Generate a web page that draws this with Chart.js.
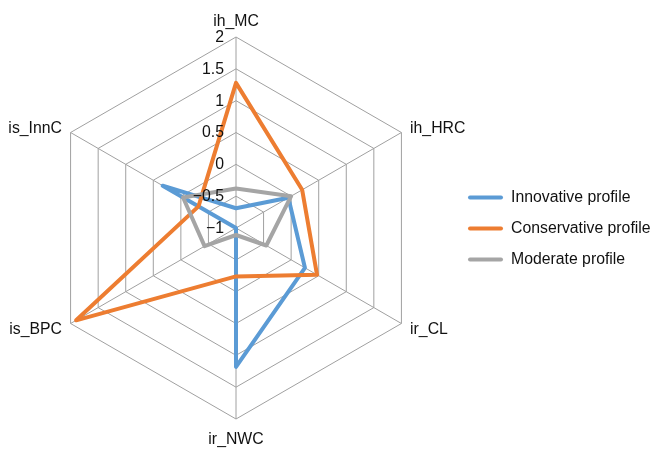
<!DOCTYPE html>
<html>
<head>
<meta charset="utf-8">
<script src="https://cdn.jsdelivr.net/npm/chart.js@4.4.1/dist/chart.umd.min.js"></script>
<style>
  html, body { margin: 0; padding: 0; background: #ffffff; }
  canvas { display: block; }
</style>
</head>
<body>
<canvas id="chart" width="652" height="450"></canvas>
<script>
// Axis categories, clockwise from the top
const axisLabels = ['ih_MC', 'ih_HRC', 'ir_CL', 'ir_NWC', 'is_BPC', 'is_InnC'];

// Profile values per axis
const innovative   = [-0.69, -0.05, 0.25, 1.18, -1.00, 0.33];
const conservative = [ 1.28,  0.20, 0.47, -0.24, 1.90, -0.32];
const moderate     = [-0.38,  0.00, -0.45, -0.89, -0.43, -0.04];

const seriesNames  = ['Innovative profile', 'Conservative profile', 'Moderate profile'];
const seriesColors = ['#5B9BD5', '#ED7D31', '#A5A5A5'];

// Radial scale range and tick spacing
const scaleMin = -1;
const scaleMax = 2;
const scaleStep = 0.5;

const FONT_FAMILY = '"Liberation Sans", Arial, Helvetica, sans-serif';
const FONT = '15.8px ' + FONT_FAMILY;
const TEXT_COLOR = '#111111';

function formatTick(v) {
  const s = String(Math.round(v * 10) / 10);
  return s.replace('-', '\u2212');
}

// Tick values along the vertical axis and category names around the rim
const radarText = {
  id: 'radarText',
  afterDatasetsDraw(chart) {
    const scale = chart.scales.r;
    const ctx = chart.ctx;
    ctx.save();
    ctx.font = FONT;
    ctx.fillStyle = TEXT_COLOR;

    // tick labels, right-aligned just left of the top axis
    ctx.textAlign = 'right';
    ctx.textBaseline = 'middle';
    scale.ticks.forEach(t => {
      const d = scale.getDistanceFromCenterForValue(t.value);
      ctx.fillText(formatTick(t.value), scale.xCenter - 12, scale.yCenter - d + 0.5);
    });

    // category labels
    chart.data.labels.forEach((lbl, i) => {
      const p = scale.getPointPosition(i, scale.drawingArea + 10);
      const dx = p.x - scale.xCenter;
      if (Math.abs(dx) < 1) {
        ctx.textAlign = 'center';
        if (p.y < scale.yCenter) {
          ctx.textBaseline = 'alphabetic';
          ctx.fillText(lbl, p.x, p.y - 1);
        } else {
          ctx.textBaseline = 'top';
          ctx.fillText(lbl, p.x, p.y + 3);
        }
      } else {
        ctx.textAlign = dx > 0 ? 'left' : 'right';
        ctx.textBaseline = 'middle';
        ctx.fillText(lbl, p.x, p.y + 1);
      }
    });
    ctx.restore();
  }
};

// Legend on the right: a short thick line per series, then its name
const sideLegend = {
  id: 'sideLegend',
  afterDraw(chart) {
    const ctx = chart.ctx;
    ctx.save();
    ctx.font = FONT;
    ctx.textAlign = 'left';
    ctx.textBaseline = 'middle';
    chart.data.datasets.forEach((ds, i) => {
      const y = 197.5 + i * 31;
      ctx.strokeStyle = ds.borderColor;
      ctx.lineWidth = 4;
      ctx.lineCap = 'round';
      ctx.beginPath();
      ctx.moveTo(470, y);
      ctx.lineTo(501, y);
      ctx.stroke();
      ctx.fillStyle = TEXT_COLOR;
      ctx.fillText(ds.label, 511, y + 0.5);
    });
    ctx.restore();
  }
};

const seriesValues = [innovative, conservative, moderate];
const datasets = seriesValues.map((vals, i) => ({
  label: seriesNames[i],
  data: vals,
  borderColor: seriesColors[i],
  backgroundColor: seriesColors[i],
  borderWidth: 4,
  borderJoinStyle: 'round',
  pointRadius: 0,
  pointHoverRadius: 0,
  fill: false,
  order: seriesValues.length - i
}));

new Chart(document.getElementById('chart'), {
  type: 'radar',
  data: { labels: axisLabels, datasets },
  options: {
    responsive: false,
    animation: false,
    devicePixelRatio: 1,
    layout: { padding: { left: 45, top: 37, right: 224, bottom: 30 } },
    plugins: {
      legend: { display: false },
      tooltip: { enabled: false }
    },
    elements: { line: { tension: 0 } },
    scales: {
      r: {
        min: scaleMin,
        max: scaleMax,
        ticks: { stepSize: scaleStep, display: false },
        grid: { color: '#a0a0a0', lineWidth: 1 },
        angleLines: { color: '#a0a0a0', lineWidth: 1 },
        pointLabels: { display: false }
      }
    }
  },
  plugins: [radarText, sideLegend]
});
</script>
</body>
</html>
